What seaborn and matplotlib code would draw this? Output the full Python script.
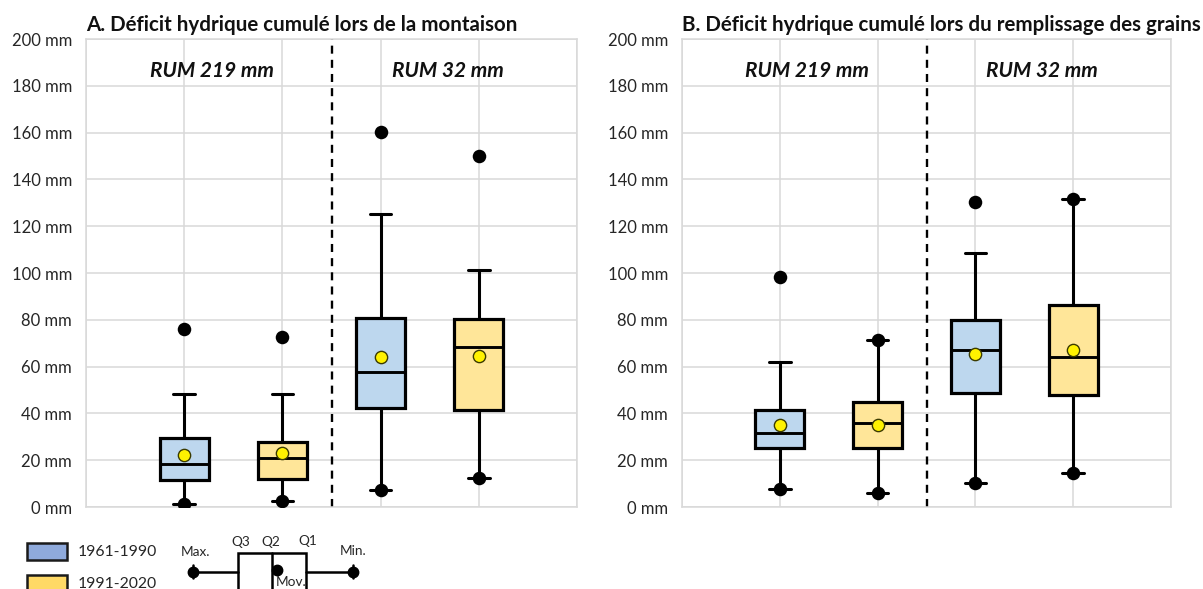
import matplotlib
matplotlib.use("Agg")
import matplotlib.pyplot as plt
import seaborn as sns

# data (mm)
periods = ["1961-1990", "1991-2020", "1961-1990", "1991-2020"]
rum_labels = ["RUM 219 mm", "RUM 32 mm"]
positions = [1, 2, 3, 4]

a_min = [1.3, 2.7, 7.3, 12.5]
a_q1 = [11.5, 12.0, 42.2, 41.5]
a_med = [18.5, 20.8, 57.8, 68.5]
a_q3 = [29.6, 27.9, 80.6, 80.3]
a_whishi = [48.1, 48.3, 125.3, 101.1]
a_max = [76.1, 72.8, 160.4, 150.1]
a_mean = [22.2, 23.2, 64.1, 64.5]

b_min = [7.5, 5.8, 10.1, 14.4]
b_q1 = [25.4, 25.4, 48.6, 47.7]
b_med = [31.8, 36.0, 67.1, 64.2]
b_q3 = [41.3, 44.7, 79.9, 86.3]
b_whishi = [62.1, 71.4, 108.5, 131.5]
b_max = [98.4, 71.4, 130.2, 131.5]
b_mean = [34.9, 34.9, 65.4, 67.1]

yticks = [0, 20, 40, 60, 80, 100, 120, 140, 160, 180, 200]

box_colors = {"1961-1990": "#BDD7EE", "1991-2020": "#FFE699"}
legend_colors = {"1961-1990": "#8FAADC", "1991-2020": "#FFD966"}
GRID = "#D9D9D9"
TXT = "#262626"

sns.set_style("whitegrid")
plt.rcParams["font.family"] = ["Lato", "DejaVu Sans"]


def draw_panel(ax, title, mins, q1, med, q3, whishi, maxs, means):
    stats = []
    for i in range(len(positions)):
        stats.append({"whislo": mins[i], "q1": q1[i], "med": med[i], "q3": q3[i],
                      "whishi": whishi[i], "fliers": [], "mean": means[i]})
    bp = ax.bxp(stats, positions=positions, widths=0.5, patch_artist=True,
                showfliers=False, showmeans=False, capwidths=0.22,
                boxprops=dict(linewidth=2.3, edgecolor="black"),
                medianprops=dict(color="black", linewidth=2.1),
                whiskerprops=dict(color="black", linewidth=2.2),
                capprops=dict(color="black", linewidth=2.2))
    for patch, p in zip(bp["boxes"], periods):
        patch.set_facecolor(box_colors[p])
        patch.set_zorder(3)
    for key in ("medians", "whiskers", "caps"):
        for ln in bp[key]:
            ln.set_zorder(3)

    sns.scatterplot(x=positions, y=maxs, ax=ax, color="black", s=95,
                    edgecolor="black", linewidth=0, zorder=4, legend=False)
    sns.scatterplot(x=positions, y=mins, ax=ax, color="black", s=95,
                    edgecolor="black", linewidth=0, zorder=4, legend=False)
    sns.scatterplot(x=positions, y=means, ax=ax, color="#FFF200", s=78,
                    edgecolor="#3a3a00", linewidth=1.0, zorder=5, legend=False)

    ax.axvline(2.5, color="black", linestyle=(0, (3.4, 2.6)), linewidth=1.7, zorder=2)
    ax.text(1.28, 186.5, rum_labels[0], ha="center", va="center",
            fontsize=15, fontweight="bold", fontstyle="italic", color="#111111")
    ax.text(3.68, 186.5, rum_labels[1], ha="center", va="center",
            fontsize=15, fontweight="bold", fontstyle="italic", color="#111111")

    ax.set_xlim(0, 5)
    ax.set_ylim(0, 200)
    ax.set_xticks([0, 1, 2, 3, 4, 5])
    ax.set_xticklabels([])
    ax.set_yticks(yticks)
    ax.set_yticklabels([f"{v} mm" for v in yticks], fontsize=12, color=TXT)
    ax.tick_params(axis="both", length=0, pad=10)
    ax.grid(True, color=GRID, linewidth=1.1)
    for sp in ax.spines.values():
        sp.set_color(GRID)
        sp.set_linewidth(1.1)
    ax.set_title(title, loc="left", fontsize=14.8, fontweight="bold",
                 color="#111111", pad=6)


fig = plt.figure(figsize=(12.03, 5.89), dpi=100)
W, H = 1203, 589
ax_a = fig.add_axes([86 / W, (H - 507) / H, 491 / W, 468 / H])
ax_b = fig.add_axes([682 / W, (H - 507) / H, 489 / W, 468 / H])

draw_panel(ax_a, "A. Déficit hydrique cumulé lors de la montaison",
           a_min, a_q1, a_med, a_q3, a_whishi, a_max, a_mean)
draw_panel(ax_b, "B. Déficit hydrique cumulé lors du remplissage des grains",
           b_min, b_q1, b_med, b_q3, b_whishi, b_max, b_mean)

# legend area (pixel coordinates of the figure)
leg = fig.add_axes([0, 0, 1, 1], zorder=-1)
leg.set_xlim(0, W)
leg.set_ylim(H, 0)
leg.axis("off")

for (p, y0) in zip(["1961-1990", "1991-2020"], [543, 575]):
    leg.add_patch(plt.Rectangle((27, y0), 40, 17, facecolor=legend_colors[p],
                                edgecolor="#1a1a1a", linewidth=1.8))
    leg.text(78, y0 + 8.5, p, ha="left", va="center", fontsize=11.3, color=TXT)

# schematic of the box
leg.plot([193, 238], [571.5, 571.5], color="black", lw=1.8)
leg.plot([306, 353], [571.5, 571.5], color="black", lw=1.8)
leg.add_patch(plt.Rectangle((238, 553), 68, 45, facecolor="white",
                            edgecolor="black", linewidth=1.8))
leg.plot([271.5, 271.5], [553, 598], color="black", lw=1.8)
for x in (193, 353):
    leg.plot([x, x], [565, 578], color="black", lw=1.8)
    leg.plot([x], [571.5], marker="o", color="black", markersize=7.5)
leg.plot([277], [569.5], marker="o", color="black", markersize=7.5)
leg.text(196, 552, "Max.", ha="center", va="center", fontsize=9.8, color=TXT)
leg.text(241, 542, "Q3", ha="center", va="center", fontsize=9.8, color=TXT)
leg.text(271, 542, "Q2", ha="center", va="center", fontsize=9.8, color=TXT)
leg.text(308, 541, "Q1", ha="center", va="center", fontsize=9.8, color=TXT)
leg.text(353, 551, "Min.", ha="center", va="center", fontsize=9.8, color=TXT)
leg.text(291, 582, "Mov.", ha="center", va="center", fontsize=9.8, color=TXT)

fig.savefig("out.png", dpi=100)
